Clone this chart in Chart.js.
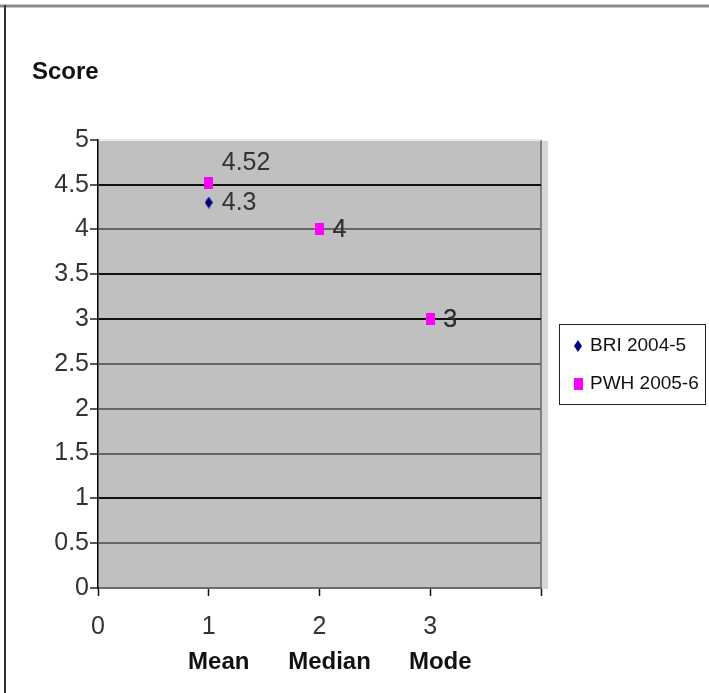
<!DOCTYPE html>
<html>
<head>
<meta charset="utf-8">
<style>
  html, body { margin: 0; padding: 0; background: #fff; }
  #wrap { width: 709px; height: 693px; position: relative; }
</style>
<script src="https://cdn.jsdelivr.net/npm/chart.js@4.4.0/dist/chart.umd.min.js"></script>
</head>
<body>
<div id="wrap"><canvas id="c" width="709" height="693"></canvas></div>
<script>
// Score summary per statistic
const categories = ['Mean', 'Median', 'Mode'];
const categoryX = [1, 2, 3];
const briValues = [4.3, 4, 3];
const pwhValues = [4.52, 4, 3];
const seriesNames = ['BRI 2004-5', 'PWH 2005-6'];
const xTickLabels = ['0', '1', '2', '3', ''];
const yTickLabels = ['0', '0.5', '1', '1.5', '2', '2.5', '3', '3.5', '4', '4.5', '5'];

const FONT = '"Liberation Sans", Arial, sans-serif';

// Tall marker glyphs for the two series
function marker(shape, w, h, color) {
  const cv = document.createElement('canvas');
  cv.width = w; cv.height = h;
  const g = cv.getContext('2d');
  g.fillStyle = color;
  if (shape === 'diamond') {
    g.beginPath();
    g.moveTo(w / 2, 0); g.lineTo(w, h / 2); g.lineTo(w / 2, h); g.lineTo(0, h / 2);
    g.closePath(); g.fill();
  } else {
    g.fillRect(0, 0, w, h);
  }
  return cv;
}
const briMarker = marker('diamond', 8, 12, '#000080');
const pwhMarker = marker('rect', 9, 12, '#ff00ff');

const toPoints = vals => vals.map((v, i) => ({ x: categoryX[i], y: v }));

// Grey plot panel, its shadow and the page rules
const plotPanel = {
  id: 'plotPanel',
  beforeDraw(chart) {
    const { ctx, chartArea: a } = chart;
    ctx.save();
    ctx.fillStyle = '#c6c6c6';
    ctx.fillRect(0, 4, chart.width, 4);
    ctx.fillStyle = '#8a8a8a';
    ctx.fillRect(0, 5, chart.width, 2);
    ctx.fillStyle = '#333';
    ctx.fillRect(4, 5, 2, chart.height - 5);
    ctx.fillStyle = '#d6d6d6';
    ctx.fillRect(a.right, a.top + 1, 7, a.height);
    ctx.fillStyle = '#c0c0c0';
    ctx.fillRect(a.left, a.top, a.width, a.height);
    ctx.fillStyle = '#808080';
    ctx.fillRect(a.right - 1, a.top, 2, a.height);
    ctx.restore();
  }
};

// Value labels beside each point
const valueLabels = {
  id: 'valueLabels',
  afterDatasetsDraw(chart) {
    const ctx = chart.ctx;
    const base = chart.data.datasets[0].data;
    ctx.save();
    ctx.font = '25px ' + FONT;
    ctx.fillStyle = '#333';
    ctx.textAlign = 'left';
    ctx.textBaseline = 'middle';
    chart.data.datasets.forEach((ds, di) => {
      chart.getDatasetMeta(di).data.forEach((pt, i) => {
        const v = ds.data[i].y;
        const lift = (di > 0 && v > base[i].y) ? -20 : 1;
        ctx.fillText(String(v), pt.x + 13, pt.y + lift);
      });
    });
    ctx.restore();
  }
};

// Statistic names under the x ticks
const categoryNames = {
  id: 'categoryNames',
  afterDraw(chart) {
    const { ctx } = chart;
    const xs = chart.scales.x;
    ctx.save();
    ctx.font = 'bold 24px ' + FONT;
    ctx.fillStyle = '#111';
    ctx.textAlign = 'center';
    ctx.textBaseline = 'middle';
    categories.forEach((name, i) => {
      ctx.fillText(name, xs.getPixelForValue(categoryX[i]) + 10, xs.bottom + 4);
    });
    ctx.restore();
  }
};

// Boxed legend to the right of the plot
const boxedLegend = {
  id: 'boxedLegend',
  afterDraw(chart) {
    const { ctx, chartArea: a } = chart;
    const w = 146, h = 80;
    const left = a.right + 18;
    const top = Math.round((a.top + a.bottom) / 2 - h / 2);
    ctx.save();
    ctx.fillStyle = '#fff';
    ctx.fillRect(left, top, w, h);
    ctx.strokeStyle = '#222';
    ctx.lineWidth = 1;
    ctx.strokeRect(left + 0.5, top + 0.5, w, h);
    ctx.font = '19px ' + FONT;
    ctx.fillStyle = '#111';
    ctx.textAlign = 'left';
    ctx.textBaseline = 'middle';
    chart.data.datasets.forEach((ds, i) => {
      const cy = top + 22 + i * 38;
      const img = ds.pointStyle;
      ctx.drawImage(img, left + 19 - img.width / 2, cy - img.height / 2);
      ctx.fillText(ds.label, left + 31, cy);
    });
    ctx.restore();
  }
};

const heavyRules = [1, 3, 3.5, 4.5];

new Chart(document.getElementById('c'), {
  type: 'scatter',
  data: {
    datasets: [
      { label: seriesNames[0], data: toPoints(briValues), pointStyle: briMarker,
        pointRadius: 5, backgroundColor: '#000080', borderColor: '#000080', order: 1 },
      { label: seriesNames[1], data: toPoints(pwhValues), pointStyle: pwhMarker,
        pointRadius: 5, backgroundColor: '#ff00ff', borderColor: '#ff00ff', order: 0 }
    ]
  },
  options: {
    responsive: false,
    animation: false,
    events: [],
    layout: { padding: { left: 32, right: 168, top: 0, bottom: 35 } },
    plugins: {
      legend: { display: false },
      tooltip: { enabled: false },
      title: {
        display: true,
        text: 'Score',
        align: 'start',
        color: '#111',
        font: { family: FONT, size: 24, weight: 'bold' },
        padding: { top: 58, bottom: 53 }
      }
    },
    scales: {
      x: {
        type: 'linear',
        min: 0, max: 4,
        ticks: {
          stepSize: 1,
          padding: 16,
          color: '#333',
          font: { family: FONT, size: 25 },
          callback: (v, i) => xTickLabels[i]
        },
        grid: { drawOnChartArea: false, tickLength: 8, tickColor: '#111', tickWidth: 1.5 },
        border: { color: '#6a6a6a', width: 2 }
      },
      y: {
        min: 0, max: 5,
        afterFit: s => { s.width = 66; },
        ticks: {
          stepSize: 0.5,
          padding: 1,
          color: '#333',
          font: { family: FONT, size: 25 },
          callback: (v, i) => yTickLabels[i]
        },
        grid: {
          tickLength: 8,
          tickColor: '#222',
          tickWidth: 1.5,
          lineWidth: 2,
          color: c => {
            const v = c.tick ? c.tick.value : 0;
            if (v === 5) return '#e8e8e8';
            return heavyRules.includes(v) ? '#111' : '#666';
          }
        },
        border: { color: '#000', width: 1.5 }
      }
    }
  },
  plugins: [plotPanel, valueLabels, categoryNames, boxedLegend]
});
</script>
</body>
</html>
